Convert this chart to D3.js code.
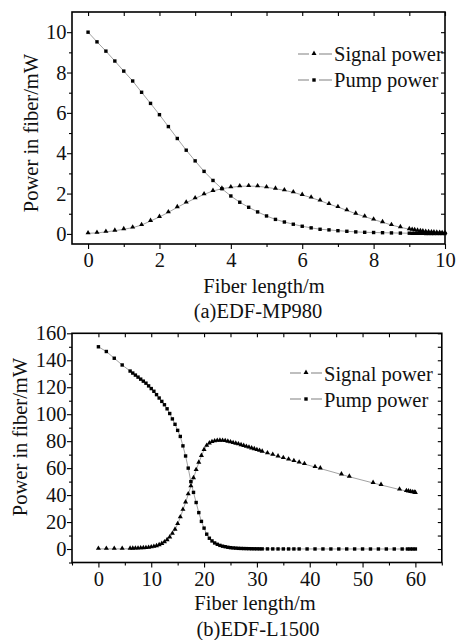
<!DOCTYPE html>
<html>

<head>
    <meta charset="utf-8">
    <title>Power in fiber</title>
    <style>
        body { margin: 0; background: #fff; }
        svg text { font-family: "Times New Roman", "Liberation Serif", Tinos, "DejaVu Serif", serif !important; fill: #111; }
    </style>
</head>

<body>
    <script src='https://d3js.org/d3.v7.min.js'></script>
    <script>
    // (a) EDF-MP980
    var lengthA = [0, 0.25, 0.5, 0.75, 1, 1.25, 1.5, 1.75, 2, 2.25, 2.5, 2.75, 3, 3.25, 3.5, 3.75,
        4, 4.25, 4.5, 4.75, 5, 5.25, 5.5, 5.75, 6, 6.25, 6.5, 6.75, 7, 7.25, 7.5, 7.75,
        8, 8.25, 8.5, 8.75, 9, 9.08, 9.15, 9.23, 9.31, 9.38, 9.46, 9.54, 9.62, 9.69, 9.77, 9.85, 9.92, 10];
    var signalA = [0.03, 0.05, 0.10, 0.16, 0.23, 0.31, 0.44, 0.64, 0.84, 1.07, 1.32, 1.55, 1.76, 1.96, 2.13, 2.24,
        2.31, 2.36, 2.37, 2.36, 2.31, 2.24, 2.16, 2.06, 1.93, 1.80, 1.65, 1.48, 1.33, 1.17, 1.00, 0.86,
        0.71, 0.58, 0.44, 0.33, 0.23, 0.20, 0.18, 0.16, 0.14, 0.12, 0.10, 0.09, 0.08, 0.07, 0.06, 0.05, 0.04, 0.04];
    var pumpA = [10, 9.52, 9.06, 8.57, 8.07, 7.58, 7.02, 6.47, 5.91, 5.32, 4.73, 4.15, 3.62, 3.10, 2.65, 2.24,
        1.88, 1.57, 1.32, 1.09, 0.89, 0.72, 0.59, 0.48, 0.38, 0.30, 0.23, 0.20, 0.16, 0.13, 0.10, 0.08,
        0.07, 0.06, 0.05, 0.04, 0.035, 0.03, 0.03, 0.03, 0.03, 0.03, 0.02, 0.02, 0.02, 0.02, 0.02, 0.02, 0.02, 0.02];
    var xTicksA = [0, 2, 4, 6, 8, 10];
    var yTicksA = [0, 2, 4, 6, 8, 10];

    // (b) EDF-L1500
    var signalLenB = [0, 1.5, 3, 4.5,
        6, 6.5, 7, 7.5, 8, 8.5, 9, 9.5, 10, 10.5, 11, 11.5, 12, 12.5, 13, 13.5, 14, 14.5, 15, 15.5,
        16, 16.5, 17, 17.5, 18, 18.5, 19, 19.5, 20, 20.5, 21, 21.5, 22, 22.5, 23, 23.5, 24, 24.5, 25, 25.5,
        26, 26.5, 27, 27.5, 28, 28.5, 29, 29.5, 30, 30.5, 31,
        32, 33, 34, 35, 36, 37, 38, 39, 41, 42, 46, 47.5, 52, 53.5, 57, 58.3, 58.7, 59.1, 59.5, 59.8, 60];
    var signalPowB = [0.1, 0.1, 0.1, 0.1,
        0.2, 0.25, 0.3, 0.35, 0.45, 0.55, 0.7, 0.9, 1.2, 1.6, 2.1, 2.8, 3.7, 4.9, 6.5, 8.6, 11.2, 14.3, 18.5, 23.5,
        29, 34.5, 40.5, 46.5, 52.5, 58.5, 64, 69, 73.5, 76.5, 78.3, 79.3, 79.9, 80.2, 80.3, 80.2, 80, 79.6, 79.1, 78.6,
        78.1, 77.6, 77.0, 76.4, 75.8, 75.2, 74.6, 74.0, 73.4, 72.8, 72.2,
        71.0, 69.8, 68.6, 67.4, 66.3, 65.2, 64.1, 63.0, 60.8, 59.7, 55.3, 53.6, 49.0, 47.5, 44.1, 43.0, 42.7, 42.3, 42.0, 41.8, 41.6];
    var pumpLenB = [0, 1.5, 3, 4.5,
        6, 6.5, 7, 7.5, 8, 8.5, 9, 9.5, 10, 10.5, 11, 11.5, 12, 12.5, 13, 13.5, 14, 14.5, 15, 15.5,
        16, 16.5, 17, 17.5, 18, 18.5, 19, 19.5, 20, 20.5, 21, 21.5, 22, 22.5, 23, 23.5, 24, 24.5, 25, 25.5,
        26, 26.5, 27, 27.5, 28, 28.5, 29, 29.5, 30, 30.5, 31,
        32, 33, 34, 35, 36, 37, 38, 39.5, 41, 42.5, 44, 45.5, 47, 48.5, 50, 51.5, 53, 54.5, 56, 57.5, 58.5, 59, 59.5, 60];
    var pumpPowB = [150, 146.5, 141.5, 136.5,
        132, 130.5, 129, 127.5, 126, 124.5, 123, 121, 119, 117, 114.5, 112, 109.5, 107, 104, 100.5, 96.5, 92.5, 88, 83.5,
        76.5, 69, 60, 50, 42, 34.5, 27, 20.5, 15.5, 11, 8, 6, 4.5, 3.5, 2.7, 2.1, 1.7, 1.3, 1.0, 0.8,
        0.65, 0.5, 0.42, 0.35, 0.3, 0.25, 0.2, 0.17, 0.15, 0.12, 0.1,
        0.08, 0.07, 0.06, 0.06, 0.05, 0.05, 0.05, 0.04, 0.04, 0.04, 0.03, 0.03, 0.03, 0.03, 0.03, 0.02, 0.02, 0.02, 0.02, 0.02, 0.02, 0.02, 0.02, 0.02];
    var xTicksB = [0, 10, 20, 30, 40, 50, 60];
    var yTicksB = [0, 20, 40, 60, 80, 100, 120, 140, 160];

    var seriesNames = ["Signal power", "Pump power"];

    var svg = d3.select("body")
        .append("svg")
        .attr("width", 470)
        .attr("height", 640)
        .attr("font-family", "Times New Roman, Liberation Serif, serif");

    var fontSize = 20.5;
    var lineColor = "#8a8a8a";

    function pairs(xs, ys) {
        return xs.map(function(d, i) { return [d, ys[i]]; });
    }

    function drawPanel(cfg) {
        var x = d3.scaleLinear().domain(cfg.xDomain).range([cfg.left, cfg.right]);
        var y = d3.scaleLinear().domain(cfg.yDomain).range([cfg.bottom, cfg.top]);
        var g = svg.append("g");

        // minor ticks (outward, no labels)
        g.append("g")
            .attr("transform", "translate(0," + cfg.bottom + ")")
            .call(d3.axisBottom(x).tickValues(cfg.xMinor).tickSize(3).tickFormat(""));
        g.append("g")
            .attr("transform", "translate(" + cfg.left + ",0)")
            .call(d3.axisLeft(y).tickValues(cfg.yMinor).tickSize(3).tickFormat(""));
        // mirrored axes, ticks pointing in
        g.append("g")
            .attr("transform", "translate(0," + cfg.top + ")")
            .call(d3.axisTop(x).tickValues(cfg.xMirror).tickSize(-4).tickFormat(""));
        g.append("g")
            .attr("transform", "translate(" + cfg.right + ",0)")
            .call(d3.axisRight(y).tickValues(cfg.yMirror).tickSize(-4).tickFormat(""));

        // major axes
        g.append("g")
            .attr("transform", "translate(0," + cfg.bottom + ")")
            .call(d3.axisBottom(x).tickValues(cfg.xTicks).tickSize(5).tickPadding(3.5).tickSizeOuter(0));
        g.append("g")
            .attr("transform", "translate(" + cfg.left + ",0)")
            .call(d3.axisLeft(y).tickValues(cfg.yTicks).tickSize(5).tickPadding(0.5).tickSizeOuter(0));
        g.selectAll("g").attr("font-family", null);
        g.selectAll(".domain").remove();
        g.selectAll(".tick line").attr("stroke", "#000").attr("stroke-width", 1.1);
        g.selectAll(".tick text")
            .style("font-size", fontSize + "px")
            .attr("fill", "#111");

        // frame
        g.append("rect")
            .attr("x", cfg.left)
            .attr("y", cfg.top)
            .attr("width", cfg.right - cfg.left)
            .attr("height", cfg.bottom - cfg.top)
            .attr("fill", "none")
            .attr("stroke", "#000")
            .attr("stroke-width", 1.6);

        var line = d3.line()
            .x(function(d) { return x(d[0]); })
            .y(function(d) { return y(d[1]); });
        var tri = d3.symbol().type(d3.symbolTriangle).size(cfg.triSize);

        var sig = pairs(cfg.sigX, cfg.sigY);
        var pmp = pairs(cfg.pumpX, cfg.pumpY);

        [sig, pmp].forEach(function(s) {
            g.append("path")
                .datum(s)
                .attr("d", line)
                .attr("fill", "none")
                .attr("stroke", lineColor)
                .attr("stroke-width", 0.8);
        });

        g.selectAll(".sq")
            .data(pmp)
            .enter()
            .append("rect")
            .attr("class", "sq")
            .attr("x", function(d) { return x(d[0]) - cfg.sqSize / 2; })
            .attr("y", function(d) { return y(d[1]) - cfg.sqSize / 2; })
            .attr("width", cfg.sqSize)
            .attr("height", cfg.sqSize)
            .attr("fill", "#000");

        g.selectAll(".tri")
            .data(sig)
            .enter()
            .append("path")
            .attr("class", "tri")
            .attr("d", tri)
            .attr("transform", function(d) { return "translate(" + x(d[0]) + "," + (y(d[1]) - 0.5) + ")"; })
            .attr("fill", "#000");

        // legend
        cfg.legendRows.forEach(function(r, i) {
            var lg = g.append("g");
            lg.append("line")
                .attr("x1", r.x0).attr("x2", r.mx - 5)
                .attr("y1", r.my).attr("y2", r.my)
                .attr("stroke", lineColor).attr("stroke-width", 1.1);
            lg.append("line")
                .attr("x1", r.mx + 5).attr("x2", r.x1)
                .attr("y1", r.my).attr("y2", r.my)
                .attr("stroke", lineColor).attr("stroke-width", 1.1);
            if (i == 0) {
                lg.append("path")
                    .attr("d", tri)
                    .attr("transform", "translate(" + r.mx + "," + (r.my - 0.5) + ")")
                    .attr("fill", "#000");
            } else {
                lg.append("rect")
                    .attr("x", r.mx - cfg.sqSize / 2).attr("y", r.my - cfg.sqSize / 2)
                    .attr("width", cfg.sqSize).attr("height", cfg.sqSize)
                    .attr("fill", "#000");
            }
            lg.append("text")
                .attr("x", r.x1 + 2)
                .attr("y", r.base)
                .style("font-size", fontSize + "px")
                .text(seriesNames[i]);
        });

        // titles
        g.append("text")
            .attr("x", cfg.xTitle[0])
            .attr("y", cfg.xTitle[1])
            .attr("text-anchor", "middle")
            .style("font-size", fontSize + "px")
            .text("Fiber length/m");
        g.append("text")
            .attr("transform", "translate(" + cfg.yTitle[0] + "," + cfg.yTitle[1] + ") rotate(-90)")
            .attr("text-anchor", "middle")
            .style("font-size", fontSize + "px")
            .text("Power in fiber/mW");
        g.append("text")
            .attr("x", cfg.caption[0])
            .attr("y", cfg.caption[1])
            .attr("text-anchor", "middle")
            .style("font-size", fontSize + "px")
            .text(cfg.captionText);
    }

    drawPanel({
        left: 72, right: 445, top: 12, bottom: 244,
        xDomain: [-0.45, 10], yDomain: [-0.5, 11],
        xTicks: xTicksA, yTicks: yTicksA,
        xMinor: d3.range(1, 10, 2), yMinor: d3.range(1, 11, 2),
        xMirror: d3.range(0, 11, 1), yMirror: d3.range(0, 11, 1),
        sigX: lengthA, sigY: signalA, pumpX: lengthA, pumpY: pumpA,
        triSize: 11, sqSize: 3.4,
        legendRows: [
            { x0: 298, x1: 332, mx: 314, my: 54, base: 61 },
            { x0: 298, x1: 332, mx: 314, my: 80, base: 87 }
        ],
        xTitle: [264, 293], yTitle: [38, 133],
        caption: [258, 318], captionText: "(a)EDF-MP980"
    });

    drawPanel({
        left: 72, right: 441.8, top: 333.3, bottom: 562.5,
        xDomain: [-5, 65], yDomain: [-10, 160],
        xTicks: xTicksB, yTicks: yTicksB,
        xMinor: d3.range(-5, 66, 10), yMinor: d3.range(-10, 160, 20),
        xMirror: d3.range(0, 65, 5), yMirror: d3.range(0, 161, 10),
        sigX: signalLenB, sigY: signalPowB, pumpX: pumpLenB, pumpY: pumpPowB,
        triSize: 11, sqSize: 3.4,
        legendRows: [
            { x0: 290, x1: 322, mx: 306, my: 373, base: 381 },
            { x0: 290, x1: 322, mx: 306, my: 399, base: 407 }
        ],
        xTitle: [255, 610], yTitle: [27, 437],
        caption: [258, 636], captionText: "(b)EDF-L1500"
    });
    </script>
</body>

</html>
